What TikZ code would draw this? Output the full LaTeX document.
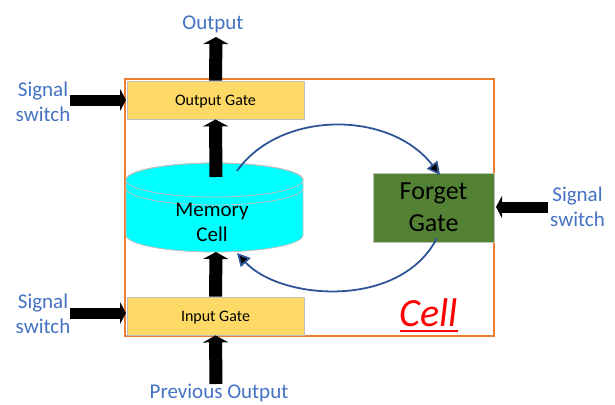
\documentclass[tikz,border=0pt]{standalone}
\usepackage{fontspec}
\setmainfont{Carlito}
\usetikzlibrary{arrows.meta}
\definecolor{gatefill}{HTML}{FFD966}
\definecolor{gateline}{HTML}{BFBFBF}
\definecolor{forgetfill}{HTML}{548235}
\definecolor{cellline}{HTML}{ED7D31}
\definecolor{labelblue}{HTML}{4472C4}
\definecolor{curveblue}{HTML}{2F5597}
\definecolor{memfill}{HTML}{00FFFF}
\tikzset{
  gatebox/.style={draw=gateline, line width=0.8pt, fill=gatefill, minimum width=177pt, minimum height=38pt, inner sep=0pt, text height=11.5pt, text depth=0pt, font=\fontsize{16}{19}\selectfont},
  forgetbox/.style={draw=gateline, line width=0.8pt, fill=forgetfill, minimum width=121pt, minimum height=69pt, inner sep=0pt, align=center, font=\fontsize{26}{32}\selectfont},
  bluelabel/.style={text=labelblue, inner sep=0pt, align=center, font=\fontsize{21}{25}\selectfont},
  vblock/.style={draw=black, line width=13pt, -{Triangle[length=7pt,width=25pt]}},
  hblock/.style={draw=black, line width=11pt, -{Triangle[length=6pt,width=22pt]}},
  loopline/.style={draw=curveblue, line width=1.8pt, -{Triangle[length=13pt,width=13pt,fill=black]}}
}
\begin{document}
\begin{tikzpicture}[x=1pt,y=-1pt]
\useasboundingbox (0,0) rectangle (615,404);
% cell frame
\node[draw=cellline, line width=1.5pt, minimum width=369pt, minimum height=257pt, inner sep=0pt] (cell) at (309.5,207.5) {};
% gates
\node[gatebox] (og) at (215.5,100) {Output Gate};
\node[gatebox] (ig) at (215.5,316) {Input Gate};
\node[forgetbox] (fg) at (433.5,207.5) {Forget\\Gate};
% memory cylinder
\path[fill=memfill, draw=gateline, line width=0.8pt]
  (126,180) -- (126,235) arc[start angle=180, end angle=360, x radius=88.5pt, y radius=17pt]
  -- (303,180) arc[start angle=0, end angle=180, x radius=88.5pt, y radius=17pt] -- cycle;
\draw[draw=gateline, line width=0.8pt] (214.5,180) ellipse[x radius=88.5pt, y radius=17pt];
\draw[draw=gateline, line width=0.8pt] (126,188) arc[start angle=180, end angle=360, x radius=88.5pt, y radius=17pt];
\node[inner sep=0pt, align=center, font=\fontsize{21}{25}\selectfont] (mem) at (212,222) {Memory\\Cell};
% coordinates for arrow ends
\coordinate (outTip) at (216,37);
\coordinate (memTop) at (216,177);
\coordinate (memBot) at (216,252);
\coordinate (prevStart) at (216,384);
\coordinate (swA) at (70,100);
\coordinate (swB) at (70,313);
\coordinate (swC) at (548,207);
\coordinate (ogIn) at (126,100);
\coordinate (igIn) at (126,313);
\coordinate (fgIn) at (496,207);
% labels
\node[bluelabel, anchor=base] (outlbl) at (213,30) {Output};
\node[bluelabel, anchor=base] (prevlbl) at (219,398) {Previous Output};
\node[bluelabel] (sw1) at (43,102) {Signal\\switch};
\node[bluelabel] (sw2) at (43,314) {Signal\\switch};
\node[bluelabel] (sw3) at (577.5,207) {Signal\\switch};
\node[text=red, inner sep=0pt, anchor=base, font=\fontsize{40}{48}\selectfont\itshape] (celllbl) at (429,326) {Cell};
\draw[red, line width=2pt] ([yshift=-5pt]celllbl.base west) -- ([yshift=-5pt]celllbl.base east);
% black block arrows
\draw[vblock] (og.north) -- (outTip);
\draw[vblock] (memTop) -- (og.south);
\draw[vblock] (ig.north) -- (memBot);
\draw[vblock] (prevStart) -- (ig.south);
\draw[hblock] (swA) -- (ogIn);
\draw[hblock] (swB) -- (igIn);
\draw[hblock] (swC) -- (fgIn);
% loop arrows
\coordinate (m1) at (237,171);
\coordinate (f1) at (440,175);
\coordinate (f2) at (437,238);
\coordinate (m2) at (237,253);
\draw[loopline] (m1) .. controls (280,110) and (390,110) .. (f1);
\draw[loopline] (f2) .. controls (400,310) and (280,300) .. (m2);
\end{tikzpicture}
\end{document}
